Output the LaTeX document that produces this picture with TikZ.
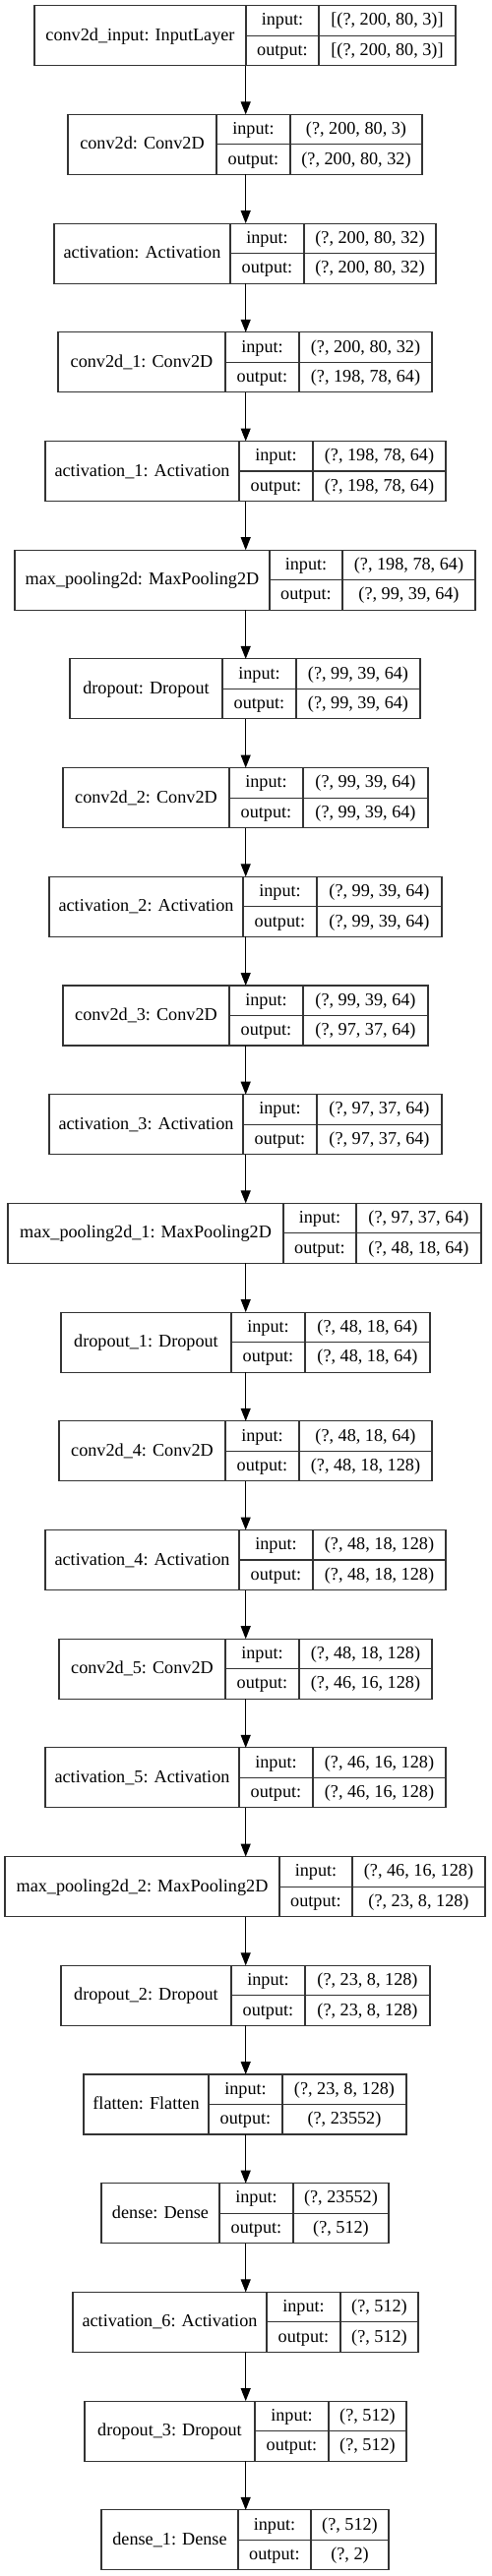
\documentclass[tikz,border=0pt]{standalone}
\usepackage{fontspec}
\setmainfont{Liberation Serif}
\usetikzlibrary{arrows.meta}
\tikzset{
  lbox/.style={draw=black!80, line width=1.1pt, inner sep=0pt, outer sep=0pt, minimum height=61pt},
  ldiv/.style={draw=black!80, line width=1.1pt},
  ltxt/.style={inner sep=0pt, text height=13pt, text depth=3pt, font=\fontsize{18.2}{22}\selectfont},
  arr/.style={draw=black, line width=1pt, -{Triangle[length=13pt,width=10pt]}}
}
\newcommand\layerbox[9]{%
  \pgfmathsetmacro\ty{5.7+110.7*#2}%
  \pgfmathsetmacro\bw{#6-#3}%
  \node[lbox, minimum width=\bw pt, anchor=north west] (#1) at (#3,\ty) {};
  \draw[ldiv] ({#4},\ty) -- ++(0,61) ({#5},\ty) -- ++(0,61) ({#4},{\ty+30.5}) -- ({#6},{\ty+30.5});
  \node[ltxt] (#1-l) at ({(#3+#4)/2},{\ty+30.5}) {#7};
  \node[ltxt] (#1-ik) at ({(#4+#5)/2},{\ty+15.25}) {input:};
  \node[ltxt] (#1-ok) at ({(#4+#5)/2},{\ty+45.75}) {output:};
  \node[ltxt] (#1-iv) at ({(#5+#6)/2},{\ty+15.25}) {#8};
  \node[ltxt] (#1-ov) at ({(#5+#6)/2},{\ty+45.75}) {#9};
}
\begin{document}
\begin{tikzpicture}[x=1pt,y=-1pt]
\useasboundingbox[fill=white] (0,0) rectangle (499,2619);
\coordinate (axis) at (249.7,0);
\layerbox{b0}{0}{35}{250}{324}{463}{conv2d\_input: InputLayer}{[(?, 200, 80, 3)]}{[(?, 200, 80, 3)]}
\layerbox{b1}{1}{69}{220}{295}{429}{conv2d: Conv2D}{(?, 200, 80, 3)}{(?, 200, 80, 32)}
\layerbox{b2}{2}{55}{234}{309}{443}{activation: Activation}{(?, 200, 80, 32)}{(?, 200, 80, 32)}
\layerbox{b3}{3}{59}{229}{304}{439}{conv2d\_1: Conv2D}{(?, 200, 80, 32)}{(?, 198, 78, 64)}
\layerbox{b4}{4}{46}{243}{318}{453}{activation\_1: Activation}{(?, 198, 78, 64)}{(?, 198, 78, 64)}
\layerbox{b5}{5}{15}{274}{348}{483}{max\_pooling2d: MaxPooling2D}{(?, 198, 78, 64)}{(?, 99, 39, 64)}
\layerbox{b6}{6}{71}{226}{301}{427}{dropout: Dropout}{(?, 99, 39, 64)}{(?, 99, 39, 64)}
\layerbox{b7}{7}{64}{233}{308}{435}{conv2d\_2: Conv2D}{(?, 99, 39, 64)}{(?, 99, 39, 64)}
\layerbox{b8}{8}{50}{247}{322}{449}{activation\_2: Activation}{(?, 99, 39, 64)}{(?, 99, 39, 64)}
\layerbox{b9}{9}{64}{233}{308}{435}{conv2d\_3: Conv2D}{(?, 99, 39, 64)}{(?, 97, 37, 64)}
\layerbox{b10}{10}{50}{247}{322}{449}{activation\_3: Activation}{(?, 97, 37, 64)}{(?, 97, 37, 64)}
\layerbox{b11}{11}{8}{288}{362}{489}{max\_pooling2d\_1: MaxPooling2D}{(?, 97, 37, 64)}{(?, 48, 18, 64)}
\layerbox{b12}{12}{62}{235}{310}{437}{dropout\_1: Dropout}{(?, 48, 18, 64)}{(?, 48, 18, 64)}
\layerbox{b13}{13}{60}{229}{304}{439}{conv2d\_4: Conv2D}{(?, 48, 18, 64)}{(?, 48, 18, 128)}
\layerbox{b14}{14}{46}{243}{318}{453}{activation\_4: Activation}{(?, 48, 18, 128)}{(?, 48, 18, 128)}
\layerbox{b15}{15}{60}{229}{304}{439}{conv2d\_5: Conv2D}{(?, 48, 18, 128)}{(?, 46, 16, 128)}
\layerbox{b16}{16}{46}{243}{318}{453}{activation\_5: Activation}{(?, 46, 16, 128)}{(?, 46, 16, 128)}
\layerbox{b17}{17}{5}{284}{358}{493}{max\_pooling2d\_2: MaxPooling2D}{(?, 46, 16, 128)}{(?, 23, 8, 128)}
\layerbox{b18}{18}{62}{235}{310}{437}{dropout\_2: Dropout}{(?, 23, 8, 128)}{(?, 23, 8, 128)}
\layerbox{b19}{19}{85}{212}{287}{413}{flatten: Flatten}{(?, 23, 8, 128)}{(?, 23552)}
\layerbox{b20}{20}{103}{223}{298}{395}{dense: Dense}{(?, 23552)}{(?, 512)}
\layerbox{b21}{21}{74}{271}{346}{425}{activation\_6: Activation}{(?, 512)}{(?, 512)}
\layerbox{b22}{22}{86}{259}{334}{413}{dropout\_3: Dropout}{(?, 512)}{(?, 512)}
\layerbox{b23}{23}{103}{242}{316}{395}{dense\_1: Dense}{(?, 512)}{(?, 2)}
\foreach \i [evaluate=\i as \j using int(\i+1)] in {0,...,22}
  \draw[arr] (b\i.south -| axis) -- (b\j.north -| axis);
\end{tikzpicture}
\end{document}
